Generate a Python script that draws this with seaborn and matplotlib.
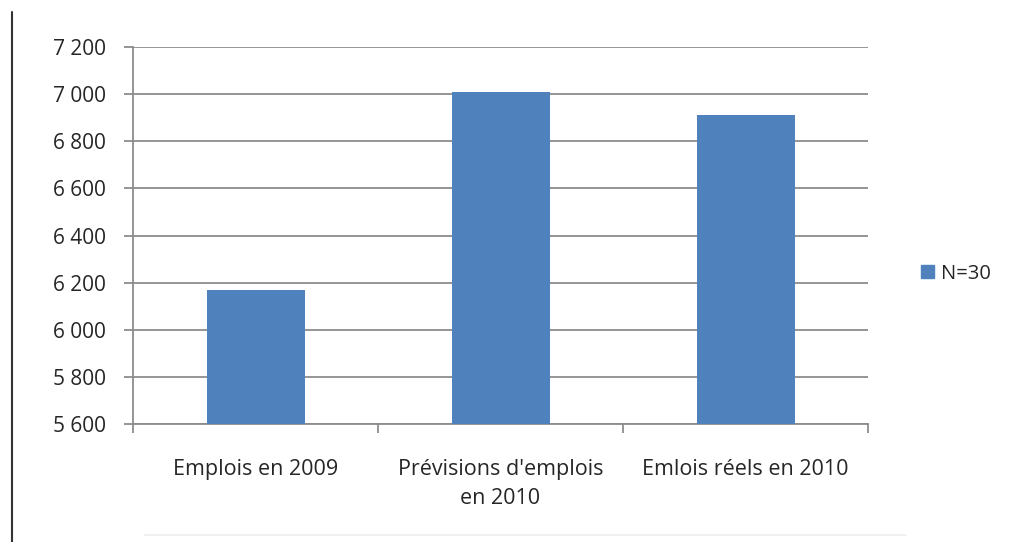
import matplotlib
matplotlib.use("Agg")
import matplotlib.pyplot as plt
import matplotlib.ticker as mticker
from matplotlib.patches import Patch
from matplotlib.lines import Line2D
import seaborn as sns
import pandas as pd

categories = ["Emplois en 2009", "Prévisions d'emplois\nen 2010", "Emlois réels en 2010"]
values = [6170, 7010, 6910]
series_name = "N=30"
yticks = [5600, 5800, 6000, 6200, 6400, 6600, 6800, 7000, 7200]

sns.set_theme(style="white")
plt.rcParams['font.family'] = ['Open Sans', 'DejaVu Sans']

df = pd.DataFrame({"cat": categories, "val": values})

fig = plt.figure(figsize=(10.14, 5.42), dpi=100)
ax = fig.add_axes([133/1014, 1 - 424/542, (868-133)/1014, (424-47)/542])

bar_color = "#4F81BD"
grid_color = "#8C8C8C"
text_color = "#262626"

sns.barplot(data=df, x="cat", y="val", color=bar_color, width=0.4,
            saturation=1, ax=ax, zorder=3, edgecolor=bar_color, linewidth=0)

ax.set_ylim(5600, 7200)
ax.set_xlim(-0.5, 2.5)
ax.set_yticks(yticks)
ax.yaxis.set_major_formatter(mticker.FuncFormatter(lambda v, p: f"{int(v):,}".replace(",", " ")))
ax.yaxis.grid(True, color=grid_color, linewidth=1.3, zorder=0)
ax.set_axisbelow(True)
ax.set_xlabel("")
ax.set_ylabel("")

for s in ["top", "right"]:
    ax.spines[s].set_visible(False)
for s in ["left", "bottom"]:
    ax.spines[s].set_color(grid_color)
    ax.spines[s].set_linewidth(1.3)

ax.tick_params(axis="y", which="major", direction="out", length=6.5, width=1.3,
               color=grid_color, pad=13, labelsize=15, labelcolor=text_color, left=True)
ax.tick_params(axis="x", which="major", length=0, pad=25, labelsize=15.5,
               labelcolor=text_color)
ax.set_xticks([-0.5, 0.5, 1.5, 2.5], minor=True)
ax.tick_params(axis="x", which="minor", direction="out", length=6.5, width=1.3,
               color=grid_color, bottom=True)
for lbl in ax.get_xticklabels():
    lbl.set_linespacing(1.5)

handles = [Patch(facecolor=bar_color, edgecolor=bar_color, label=series_name)]
fig.legend(handles=handles, loc="center left", bbox_to_anchor=(903/1014, 1 - 274/542),
           frameon=False, fontsize=14.5, handlelength=0.62, handleheight=0.62,
           handletextpad=0.35, labelcolor=text_color)

# page artifacts: left vertical rule and faint bottom rule
fig.add_artist(Line2D([12/1014, 12/1014], [0, 1 - 12/542], color="#333333",
                      linewidth=1.5, transform=fig.transFigure))
fig.add_artist(Line2D([145/1014, 906/1014], [1 - 535/542, 1 - 535/542], color="#EDEDED",
                      linewidth=1.2, transform=fig.transFigure))

fig.savefig("out.png", dpi=100)
